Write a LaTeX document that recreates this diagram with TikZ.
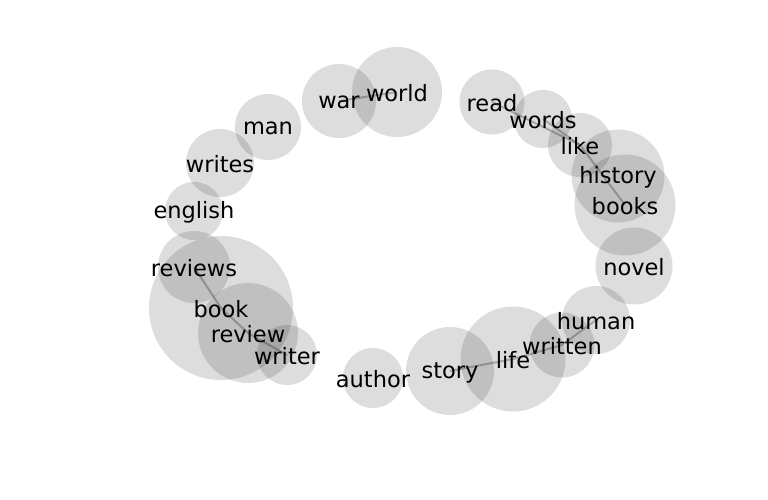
\documentclass[tikz,border=0pt]{standalone}
\usepackage{fontspec}
\setmainfont{DejaVu Sans}
\begin{document}
\begin{tikzpicture}[x=1pt,y=-1pt,
  bubble/.style={circle,inner sep=0pt,fill=black,fill opacity=0.135,draw=none,minimum size=#1},
  word/.style={text=black,font=\fontsize{22.5}{27}\selectfont,inner sep=0pt,yshift=-1.5pt},
  link/.style={draw=black,draw opacity=0.25,line width=2pt}]
\useasboundingbox (0,0) rectangle (768,500);
% circles
\node[bubble=90pt]  (world)   at (397,92)  {};
\node[bubble=74pt]  (war)     at (339,101) {};
\node[bubble=66pt]  (man)     at (268,127) {};
\node[bubble=68pt]  (writes)  at (220,163) {};
\node[bubble=58pt]  (english) at (194,211) {};
\node[bubble=72pt]  (reviews) at (194,267) {};
\node[bubble=144pt] (book)    at (221,308) {};
\node[bubble=100pt] (review)  at (248,333) {};
\node[bubble=60pt]  (writer)  at (287,355) {};
\node[bubble=60pt]  (author)  at (373,378) {};
\node[bubble=88pt]  (story)   at (450,371) {};
\node[bubble=105pt] (life)    at (513,359) {};
\node[bubble=65pt]  (written) at (562,345) {};
\node[bubble=68pt]  (human)   at (596,320) {};
\node[bubble=77pt]  (novel)   at (634,266) {};
\node[bubble=101pt] (books)   at (625,205) {};
\node[bubble=93pt]  (history) at (618,176) {};
\node[bubble=64pt]  (like)    at (580,145) {};
\node[bubble=58pt]  (words)   at (543,119) {};
\node[bubble=65pt]  (read)    at (492,102) {};
% links
\draw[link] (war.center) -- (world.center);
\draw[link] (reviews.center) -- (book.center);
\draw[link] (book.center) -- (review.center);
\draw[link] (review.center) -- (writer.center);
\draw[link] (story.center) -- (life.center);
\draw[link] (life.center) -- (written.center);
\draw[link] (written.center) -- (human.center);
\draw[link] (read.center) -- (like.center);
\draw[link] (words.center) -- (like.center);
\draw[link] (like.center) -- (books.center);
% labels
\node[word] (tworld)   at (world)   {world};
\node[word] (twar)     at (war)     {war};
\node[word] (tman)     at (man)     {man};
\node[word] (twrites)  at (writes)  {writes};
\node[word] (tenglish) at (english) {english};
\node[word] (treviews) at (reviews) {reviews};
\node[word] (tbook)    at (book)    {book};
\node[word] (treview)  at (review)  {review};
\node[word] (twriter)  at (writer)  {writer};
\node[word] (tauthor)  at (author)  {author};
\node[word] (tstory)   at (story)   {story};
\node[word] (tlife)    at (life)    {life};
\node[word] (twritten) at (written) {written};
\node[word] (thuman)   at (human)   {human};
\node[word] (tnovel)   at (novel)   {novel};
\node[word] (tbooks)   at (books)   {books};
\node[word] (thistory) at (history) {history};
\node[word] (tlike)    at (like)    {like};
\node[word] (twords)   at (words)   {words};
\node[word] (tread)    at (read)    {read};
\end{tikzpicture}
\end{document}
